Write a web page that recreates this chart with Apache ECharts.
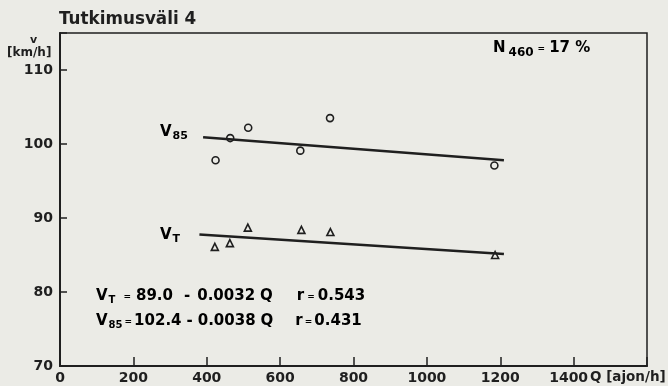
<!DOCTYPE html>
<html>
<head>
<meta charset="utf-8">
<script src="https://cdn.jsdelivr.net/npm/echarts@6/dist/echarts.min.js"></script>
<style>
  html, body { margin: 0; padding: 0; background: #ebebe6; }
  #chart { width: 668px; height: 386px; }
</style>
</head>
<body>
<div id="chart"></div>
<script>
// Traffic volume Q (vehicles/h) and measured speeds (km/h)
const v85Q = [424, 464, 513, 655, 736, 1184];
const v85V = [97.8, 100.8, 102.2, 99.1, 103.5, 97.1];
const vtQ = [422, 463, 512, 658, 737, 1186];
const vtV = [86.1, 86.6, 88.7, 88.4, 88.1, 85.0];

// Linear fits: v = a - b * Q   (index 0 = V_T, index 1 = V_85)
const fitA = [89.0, 102.4];
const fitB = [0.0032, 0.0038];
const fitR = [0.543, 0.431];
const fitStartQ = [380, 390];
const fitEndQ = [1210, 1210];

const shareN460 = 17;

const ink = '#1f1f1f';
const paper = '#ebebe6';
const font = 'DejaVu Sans';

function fitLine(i) {
  return [fitStartQ[i], fitEndQ[i]].map(q => [q, +(fitA[i] - fitB[i] * q).toFixed(3)]);
}

const base = { fontFamily: font, fontWeight: 'bold', color: ink };
const rich = {
  m: Object.assign({ fontSize: 15 }, base),
  s: Object.assign({ fontSize: 10, padding: [7, 0, 0, 1] }, base),
  ls: Object.assign({ fontSize: 11, padding: [7, 0, 0, 1] }, base),
  ns: Object.assign({ fontSize: 12, padding: [8, 0, 0, 3] }, base),
  e1: Object.assign({ fontSize: 9, padding: [0, 5, 0, 8] }, base),
  e2: Object.assign({ fontSize: 9, padding: [0, 2, 0, 2] }, base),
  e3: Object.assign({ fontSize: 9, padding: [0, 3, 0, 3] }, base),
  en: Object.assign({ fontSize: 9, padding: [0, 4, 0, 4] }, base),
  d1: Object.assign({ fontSize: 15, padding: [0, 7, 0, 11] }, base),
  d2: Object.assign({ fontSize: 15, padding: [0, 5, 0, 5] }, base),
  q: Object.assign({ fontSize: 15, padding: [0, 0, 0, 5] }, base),
  r1: Object.assign({ fontSize: 15, padding: [0, 0, 0, 24] }, base),
  r2: Object.assign({ fontSize: 15, padding: [0, 0, 0, 22] }, base)
};

function eqLine(i, name) {
  const first = i === 0;
  return '{m|V}{s|' + name + '}' +
    (first ? '{e1|=}' : '{e2|=}') +
    '{m|' + fitA[i].toFixed(1) + '}' +
    (first ? '{d1|-}' : '{d2|-}') +
    '{m|' + fitB[i].toFixed(4) + '}{q|Q}' +
    (first ? '{r1|r}' : '{r2|r}') +
    (first ? '{e3|=}' : '{e2|=}') +
    '{m|' + fitR[i].toFixed(3) + '}';
}

const chart = echarts.init(document.getElementById('chart'), null, { renderer: 'canvas' });

chart.setOption({
  animation: false,
  backgroundColor: paper,
  grid: {
    left: 60, right: 21, top: 33, bottom: 20,
    outerBoundsMode: 'none',
    show: true, borderColor: ink, borderWidth: 1.5, backgroundColor: 'transparent'
  },
  xAxis: {
    type: 'value', min: 0, max: 1600, interval: 200,
    axisLine: { show: true, onZero: false, lineStyle: { color: ink, width: 2 } },
    axisTick: { show: true, inside: true, length: 9, lineStyle: { color: ink, width: 1.5 } },
    splitLine: { show: false },
    axisLabel: {
      color: ink, fontFamily: font, fontSize: 14, fontWeight: 'bold', margin: 5,
      formatter: v => (v >= 1600 ? '' : v === 1400 ? '{l|1400}' : String(v)),
      rich: { l: { color: ink, fontFamily: font, fontSize: 14, fontWeight: 'bold', padding: [0, 10, 0, 0] } }
    }
  },
  yAxis: {
    type: 'value', min: 70, max: 115, interval: 10,
    axisLine: { show: true, onZero: false, lineStyle: { color: ink, width: 2 } },
    axisTick: { show: true, inside: true, length: 7, lineStyle: { color: ink, width: 1.5 } },
    splitLine: { show: false },
    axisLabel: {
      color: ink, fontFamily: font, fontSize: 14, fontWeight: 'bold', margin: 7,
      formatter: v => (v % 10 === 0 ? String(v) : '')
    }
  },
  series: [
    {
      type: 'line', data: fitLine(1), showSymbol: false, silent: true,
      lineStyle: { color: ink, width: 2.5 }
    },
    {
      type: 'line', data: fitLine(0), showSymbol: false, silent: true,
      lineStyle: { color: ink, width: 2.5 }
    },
    {
      type: 'scatter', data: v85Q.map((q, i) => [q, v85V[i]]),
      symbol: 'circle', symbolSize: 7,
      itemStyle: { color: paper, borderColor: ink, borderWidth: 1.6, opacity: 1 }
    },
    {
      type: 'scatter', data: vtQ.map((q, i) => [q, vtV[i]]),
      symbol: 'triangle', symbolSize: 7,
      itemStyle: { color: paper, borderColor: ink, borderWidth: 1.6, opacity: 1 }
    }
  ],
  graphic: [
    { type: 'text', left: 59, top: 11,
      style: { text: 'Tutkimusväli 4', fontFamily: font, fontSize: 16.8, fontWeight: 'bold', fill: ink } },
    { type: 'text', left: 30, top: 35,
      style: { text: 'v', fontFamily: font, fontSize: 11, fontWeight: 'bold', fill: ink } },
    { type: 'text', left: 7, top: 47,
      style: { text: '[km/h]', fontFamily: font, fontSize: 12, fontWeight: 'bold', fill: ink } },
    { type: 'text', left: 160, top: 125,
      style: { text: '{m|V}{ls|85}', rich } },
    { type: 'text', left: 160, top: 228,
      style: { text: '{m|V}{ls|T}', rich } },
    { type: 'text', left: 96, top: 289,
      style: { text: eqLine(0, 'T'), rich } },
    { type: 'text', left: 96, top: 314,
      style: { text: eqLine(1, '85'), rich } },
    { type: 'text', left: 493, top: 41,
      style: { text: '{m|N}{ns|460}{en|=}{m|' + shareN460 + ' %}', rich } },
    { type: 'text', left: 590, top: 370,
      style: { text: 'Q [ajon/h]', fontFamily: font, fontSize: 13.5, fontWeight: 'bold', fill: ink } }
  ]
});
</script>
</body>
</html>
